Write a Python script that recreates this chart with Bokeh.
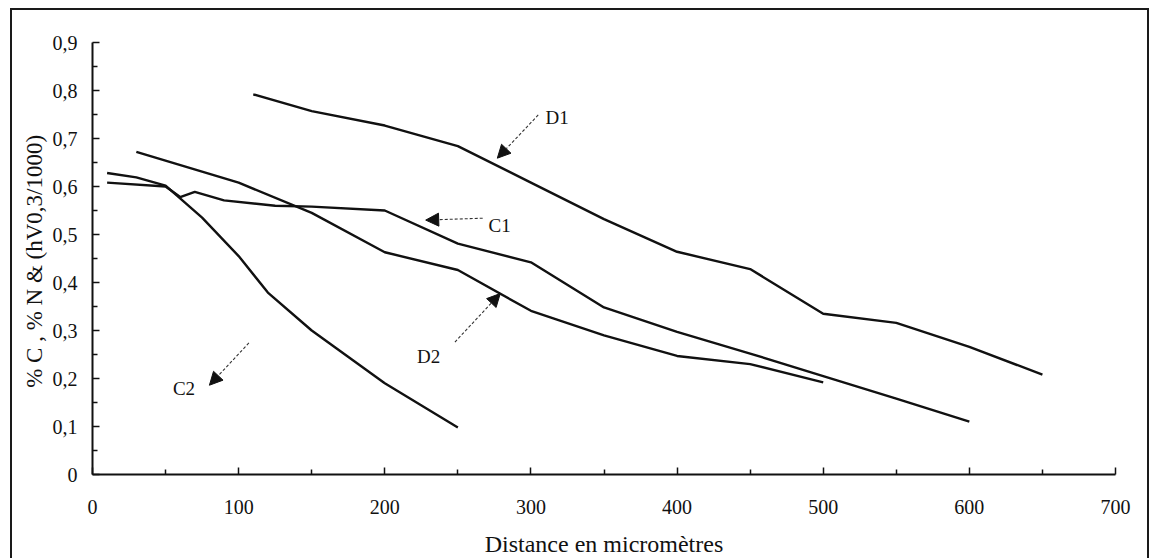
from bokeh.plotting import figure
from bokeh.models import FixedTicker, Range1d, Arrow, NormalHead, Label
from bokeh.embed import file_html
from bokeh.resources import INLINE

# ---- data ----
d1_x = [110, 150, 200, 250, 300, 350, 400, 450, 500, 550, 600, 650]
d1_y = [0.792, 0.757, 0.727, 0.684, 0.608, 0.532, 0.464, 0.428, 0.335, 0.316, 0.266, 0.208]

c1_x = [10, 50, 60, 70, 90, 125, 150, 200, 250, 300, 350, 400, 450, 500, 550, 600]
c1_y = [0.608, 0.600, 0.578, 0.589, 0.571, 0.560, 0.558, 0.550, 0.481, 0.442, 0.348, 0.297, 0.252, 0.205, 0.158, 0.110]

d2_x = [30, 100, 150, 200, 250, 300, 350, 400, 450, 500]
d2_y = [0.672, 0.608, 0.545, 0.463, 0.426, 0.341, 0.290, 0.247, 0.230, 0.192]

c2_x = [10, 30, 50, 75, 100, 120, 150, 200, 250]
c2_y = [0.628, 0.619, 0.602, 0.535, 0.455, 0.379, 0.300, 0.190, 0.098]

x_ticks = [0, 100, 200, 300, 400, 500, 600, 700]
x_minor = [50, 150, 250, 350, 450, 550, 650]
y_ticks = [0, 0.1, 0.2, 0.3, 0.4, 0.5, 0.6, 0.7, 0.8, 0.9]
y_tick_labels = ["0", "0,1", "0,2", "0,3", "0,4", "0,5", "0,6", "0,7", "0,8", "0,9"]
y_minor = [0.05, 0.15, 0.25, 0.35, 0.45, 0.55, 0.65, 0.75, 0.85]

series = [("D1", d1_x, d1_y), ("C1", c1_x, c1_y), ("D2", d2_x, d2_y), ("C2", c2_x, c2_y)]

# annotation: name, label position, arrow tail, arrow tip
callouts = [
    ("D1", (310, 0.743), (305, 0.749), (277, 0.659)),
    ("C1", (271, 0.519), (267, 0.534), (228, 0.530)),
    ("D2", (222, 0.245), (248, 0.276), (279, 0.377)),
    ("C2", (55, 0.180), (107, 0.274), (80, 0.186)),
]

FONT = "Liberation Serif"
INK = "#111111"

p = figure(width=1139, height=550, output_backend="svg", toolbar_location=None,
           x_range=Range1d(0, 700), y_range=Range1d(0, 0.9),
           min_border_left=80, min_border_right=36, min_border_top=32, min_border_bottom=86)
p.styles = {"border-top": "2px solid #1a1a1a", "border-left": "2px solid #1a1a1a",
            "border-right": "2px solid #1a1a1a", "margin-left": "10px", "margin-top": "8px"}

p.outline_line_color = None
p.xgrid.visible = False
p.ygrid.visible = False
p.background_fill_color = "white"
p.border_fill_color = "white"

for name, xs, ys in series:
    p.line(xs, ys, line_color=INK, line_width=2.4)

# axes
for ax in (p.xaxis[0], p.yaxis[0]):
    ax.axis_line_color = INK
    ax.axis_line_width = 2
    ax.major_tick_line_color = INK
    ax.minor_tick_line_color = INK
    ax.major_tick_line_width = 1.5
    ax.minor_tick_line_width = 1.5
    ax.major_tick_in = 7
    ax.major_tick_out = 0
    ax.minor_tick_in = 5
    ax.minor_tick_out = 0
    ax.major_label_text_font = FONT
    ax.major_label_text_font_size = "20px"
    ax.major_label_text_color = INK
    ax.axis_label_text_font = FONT
    ax.axis_label_text_font_style = "normal"
    ax.axis_label_text_color = INK

p.xaxis.ticker = FixedTicker(ticks=x_ticks, minor_ticks=x_minor)
p.yaxis.ticker = FixedTicker(ticks=y_ticks, minor_ticks=y_minor)
p.yaxis.major_label_overrides = dict(zip(y_ticks, y_tick_labels))

p.xaxis.major_label_standoff = 25
p.yaxis.major_label_standoff = 15

p.xaxis.axis_label = "Distance en micromètres"
p.xaxis.axis_label_text_font_size = "24px"
p.xaxis.axis_label_standoff = 14

p.yaxis.axis_label = "% C , % N  & (hV0,3/1000)"
p.yaxis.axis_label_text_font_size = "23px"
p.yaxis.axis_label_standoff = 3

for name, (lx, ly), (tx, ty), (hx, hy) in callouts:
    p.add_layout(Arrow(x_start=tx, y_start=ty, x_end=hx, y_end=hy,
                       line_color="#333333", line_width=1.1, line_dash="3 2",
                       end=NormalHead(size=13, fill_color=INK, line_color=INK, line_width=1)))
    p.add_layout(Label(x=lx, y=ly, text=name, text_font=FONT, text_font_size="19px",
                       text_color=INK, text_baseline="middle", text_align="left"))

open("out.html", "w").write(file_html(p, INLINE))
